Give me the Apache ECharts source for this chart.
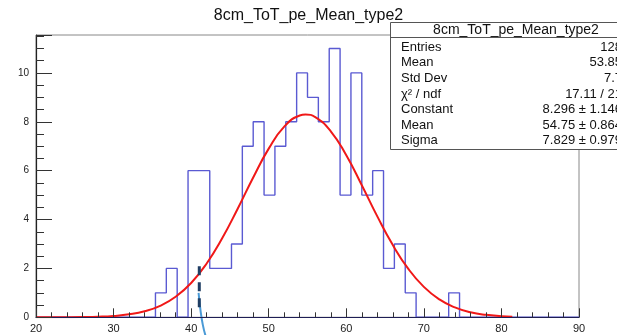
<!DOCTYPE html>
<html>
<head>
<meta charset="utf-8">
<script src="https://cdn.jsdelivr.net/npm/echarts@6/dist/echarts.min.js"></script>
<style>html,body{margin:0;padding:0;background:#fff;}#c{width:617px;height:335px;}</style>
</head>
<body>
<div id="c"></div>
<script>
// Histogram: 50 bins from 20 to 90 (width 1.4)
var histMin = 20, histMax = 90, nBins = 50;
var binCounts = [0,0,0,0,0,0,0,0,0,0,0,
  1,2,0,6,6,2,2,3,7,8,5,7,8,10,9,8,11,5,10,5,6,2,3,1,0,0,0,1,
  0,0,0,0,0,0,0,0,0,0,0];
// Gaussian fit curve
var fitX = [20,22,24,26,28,30,32,34,36,38,40,42,44,46,48,50,52,54,54.75,56,58,60,62,64,66,68,70,72,74,76,78,80,81.4];
var fitY = [0.0004,0.0013,0.0037,0.0098,0.024,0.056,0.122,0.247,0.471,0.841,1.405,2.202,3.232,4.443,5.721,6.901,7.800,8.258,8.296,8.191,7.611,6.626,5.403,4.128,2.954,1.981,1.245,0.732,0.404,0.209,0.101,0.046,0.025];
// Cursor-like overlay marks
var markBlueX = [40.96, 41.2, 41.5, 41.85];
var markBlueY = [1.0, 0.3, -0.3, -0.75];
var markDashX = [41.05, 41.05];
var markDashY = [2.09, 0.38];
var xTicks = [20,30,40,50,60,70,80,90];
var yTicks = [0,2,4,6,8,10];
var titleText = '8cm_ToT_pe_Mean_type2';
var statNames = ['Entries','Mean','Std Dev','\u03c7\u00b2 / ndf','Constant','Mean','Sigma'];
var statValues = ['128','53.85','7.7','17.11 / 21','8.296 \u00b1 1.146','54.75 \u00b1 0.864','7.829 \u00b1 0.979'];

var binW = (histMax - histMin) / nBins;
var histData = [];
for (var i = 0; i < nBins; i++) {
  var lo = histMin + i * binW, hi = lo + binW;
  histData.push([lo, binCounts[i]]);
  histData.push([hi, binCounts[i]]);
}
var fitData = fitX.map(function (x, i) { return [x, fitY[i]]; });
var blueData = markBlueX.map(function (x, i) { return [x, markBlueY[i]]; });
var dashData = markDashX.map(function (x, i) { return [x, markDashY[i]]; });

var FONT = '"Liberation Sans", Arial, Helvetica, sans-serif';
var graphics = [
  {type:'rect', z:100, shape:{x:390.5,y:22.5,width:260,height:127}, style:{fill:'#fff', stroke:'#555', lineWidth:1}},
  {type:'line', z:101, shape:{x1:390.5,y1:37.5,x2:650,y2:37.5}, style:{stroke:'#555', lineWidth:1}},
  {type:'text', z:102, x:516, y:30, style:{text:titleText, fill:'#111', font:'14px ' + FONT, align:'center', verticalAlign:'middle'}}
];
for (var k = 0; k < statNames.length; k++) {
  var yy = 47.3 + k * 15.6;
  graphics.push({type:'text', z:102, x:401, y:yy, style:{text:statNames[k], fill:'#111', font:'13px ' + FONT, align:'left', verticalAlign:'middle'}});
  graphics.push({type:'text', z:102, x:622, y:yy, style:{text:statValues[k], fill:'#111', font:'13px ' + FONT, align:'right', verticalAlign:'middle'}});
}

var chart = echarts.init(document.getElementById('c'), null, {renderer:'canvas'});
chart.setOption({
  animation: false,
  backgroundColor: '#fff',
  title: {text: titleText, left: 'center', top: 3, textStyle: {fontFamily: FONT, fontSize: 16, fontWeight: 'normal', color: '#111'}},
  grid: {left: 36, right: 38, top: 35, bottom: 17.7, show: true, borderColor: '#888', borderWidth: 1, backgroundColor: 'transparent'},
  xAxis: {
    type: 'value', min: histMin, max: histMax, interval: 10, z: 5,
    axisLine: {lineStyle: {color: '#1e1e55', width: 1.2}},
    axisTick: {inside: true, length: 9, lineStyle: {color: '#333'}},
    minorTick: {show: true, splitNumber: 5, length: 5, lineStyle: {color: '#333'}},
    splitLine: {show: false},
    axisLabel: {margin: 6, fontFamily: FONT, fontSize: 11, color: '#222',
      formatter: function (v) { return xTicks.indexOf(v) >= 0 ? String(v) : ''; }}
  },
  yAxis: {
    type: 'value', min: 0, max: 11.55, interval: 2, z: 5,
    axisLine: {show: true, lineStyle: {color: '#222', width: 1.2}},
    axisTick: {show: true, inside: true, length: 16, lineStyle: {color: '#333'}},
    minorTick: {show: true, splitNumber: 4, length: 8, lineStyle: {color: '#333'}},
    splitLine: {show: false},
    axisLabel: {margin: 7, fontFamily: FONT, fontSize: 10, color: '#222',
      formatter: function (v) { return yTicks.indexOf(v) >= 0 ? String(v) : ''; }}
  },
  series: [
    {type: 'line', data: histData, symbol: 'none', z: 2, lineStyle: {color: '#5a5ad2', width: 1.4}},
    {type: 'line', data: fitData, symbol: 'none', smooth: true, z: 3, lineStyle: {color: '#f01818', width: 2}},
    {type: 'line', data: blueData, symbol: 'none', smooth: true, clip: false, z: 4, lineStyle: {color: '#4a9ad6', width: 2}},
    {type: 'line', data: dashData, symbol: 'none', clip: false, z: 4, lineStyle: {color: '#1f3d63', width: 3, type: [9, 7]}}
  ],
  graphic: graphics
});
</script>
</body>
</html>
